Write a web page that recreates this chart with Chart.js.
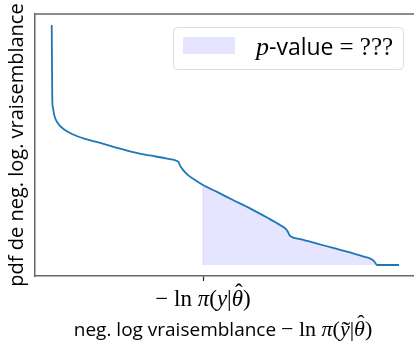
<!DOCTYPE html>
<html>
<head>
<meta charset="utf-8">
<script src="https://cdn.jsdelivr.net/npm/chart.js@4"></script>
<style>
  html, body { margin: 0; padding: 0; background: #fff; }
  #wrap { width: 414px; height: 344px; }
</style>
</head>
<body>
<div id="wrap"><canvas id="chart" width="414" height="344"></canvas></div>
<script>
// pdf of the negative log-likelihood
const curveX = [4.41, 4.56, 4.75, 5.01, 5.54, 6.60, 7.92, 9.76, 13.19, 17.15, 21.64, 25.86, 30.34, 34.83,
  37.47, 37.86, 38.26, 39.05, 40.37, 42.22, 44.33, 48.28, 52.24, 56.73, 61.21, 64.64, 66.23, 66.75,
  67.28, 69.92, 74.41, 78.63, 83.11, 86.28, 88.39, 89.45, 89.97, 90.24, 96.04];
const curveY = [0.958, 0.672, 0.641, 0.618, 0.595, 0.573, 0.557, 0.542, 0.523, 0.508, 0.489, 0.473, 0.460, 0.448,
  0.439, 0.435, 0.422, 0.405, 0.385, 0.366, 0.347, 0.319, 0.290, 0.258, 0.223, 0.195, 0.179, 0.168,
  0.153, 0.141, 0.124, 0.107, 0.090, 0.076, 0.067, 0.057, 0.046, 0.042, 0.042];
const observedX = 44.33;   // -ln pi(y|theta hat)
const fillBase = 0.042;
const fillEnd = 90.24;

const SANS = '"Open Sans", "DejaVu Sans", sans-serif';
const SERIF = '"Liberation Serif", "DejaVu Serif", serif';

const linePts = curveX.map((x, i) => ({ x: x, y: curveY[i] }));
const tailPts = [{ x: observedX, y: fillBase }]
  .concat(linePts.filter(p => p.x >= observedX && p.x <= fillEnd))
  .concat([{ x: fillEnd, y: fillBase }]);

// draws a run of text pieces, each with its own font; acc puts an accent over the piece
function drawMixed(ctx, parts, x, y, align) {
  let total = 0;
  parts.forEach(p => { ctx.font = p.font; total += ctx.measureText(p.t).width; });
  let cx = align === 'center' ? x - total / 2 : x;
  ctx.textBaseline = 'alphabetic';
  ctx.fillStyle = '#000';
  parts.forEach(p => {
    ctx.font = p.font;
    ctx.textAlign = 'left';
    const w = ctx.measureText(p.t).width;
    ctx.fillText(p.t, cx, y);
    if (p.acc) {
      ctx.font = p.accFont;
      ctx.textAlign = 'center';
      ctx.fillText(p.acc, cx + w / 2 + p.accDx, y - p.accDy);
    }
    cx += w;
  });
}

function mathParts(size, tilde) {
  const m = 'italic ' + size + 'px ' + SERIF, r = size + 'px ' + SERIF;
  const yPart = { t: 'y', font: m };
  if (tilde) Object.assign(yPart, { acc: '˜', accFont: (size + 4) + 'px ' + SERIF, accDx: 1, accDy: -0.12 * size });
  return [{ t: '− ln ', font: r }, { t: 'π', font: m }, { t: '(', font: r }, yPart, { t: '|', font: r },
    { t: 'θ', font: m, acc: 'ˆ', accFont: size + 'px ' + SERIF, accDx: 1.5, accDy: 0.28 * size },
    { t: ')', font: r }];
}

const extras = {
  id: 'extras',
  afterDraw(chart) {
    const ctx = chart.ctx;
    const area = chart.chartArea;
    const xs = chart.scales.x;
    ctx.save();
    // top spine
    ctx.strokeStyle = '#666';
    ctx.lineWidth = 1.5;
    ctx.beginPath();
    ctx.moveTo(area.left, area.top);
    ctx.lineTo(area.right, area.top);
    ctx.stroke();

    // tick label and axis title
    drawMixed(ctx, mathParts(23, false), xs.getPixelForValue(observedX), 306, 'center');
    drawMixed(ctx, [{ t: 'neg. log vraisemblance ', font: '19px ' + SANS }].concat(mathParts(22, true)),
      223, 336, 'center');

    // legend
    ctx.fillStyle = 'rgba(255,255,255,0.8)';
    ctx.strokeStyle = '#dcdcdc';
    ctx.lineWidth = 1;
    ctx.beginPath();
    ctx.roundRect(173.5, 27.5, 230, 42, 4);
    ctx.fill();
    ctx.stroke();
    ctx.fillStyle = 'rgba(0,0,255,0.1)';
    ctx.fillRect(183, 37, 52, 17);
    drawMixed(ctx, [{ t: 'p', font: 'italic 26px ' + SERIF }, { t: '-value ', font: '23px ' + SANS },
      { t: '= ???', font: '25px ' + SERIF }], 256, 55, 'left');
    ctx.restore();
  }
};

new Chart(document.getElementById('chart'), {
  type: 'line',
  data: {
    datasets: [
      {
        label: 'curve',
        data: linePts,
        borderColor: '#1f77b4',
        borderWidth: 1.8,
        pointRadius: 0,
        fill: false,
        cubicInterpolationMode: 'monotone',
        order: 1
      },
      {
        label: 'p-value',
        data: tailPts,
        borderColor: 'rgba(0,0,255,0.1)',
        backgroundColor: 'rgba(0,0,255,0.1)',
        borderWidth: 1,
        pointRadius: 0,
        tension: 0,
        fill: { value: fillBase },
        order: 2
      }
    ]
  },
  options: {
    responsive: false,
    animation: false,
    devicePixelRatio: 1,
    layout: { padding: { top: 14, left: 0, right: 0, bottom: 0 } },
    plugins: { legend: { display: false }, tooltip: { enabled: false } },
    scales: {
      x: {
        type: 'linear',
        min: 0,
        max: 100,
        afterFit(scale) { scale.height = 68; },
        afterBuildTicks(scale) { scale.ticks = [{ value: observedX }]; },
        grid: { drawOnChartArea: false, tickLength: 5, tickWidth: 1.2, tickColor: '#222' },
        border: { color: '#666', width: 1.5 },
        ticks: { callback: () => '', font: { size: 1 } }
      },
      y: {
        min: 0,
        max: 1,
        afterFit(scale) { scale.width = 35; },
        grid: { display: false, drawTicks: false },
        border: { color: '#666', width: 1.5 },
        ticks: { display: false },
        title: {
          display: true,
          text: 'pdf de neg. log. vraisemblance',
          color: '#000',
          font: { family: SANS, size: 20 },
          padding: { top: 5, bottom: 0 }
        }
      }
    }
  },
  plugins: [extras]
});
</script>
</body>
</html>
